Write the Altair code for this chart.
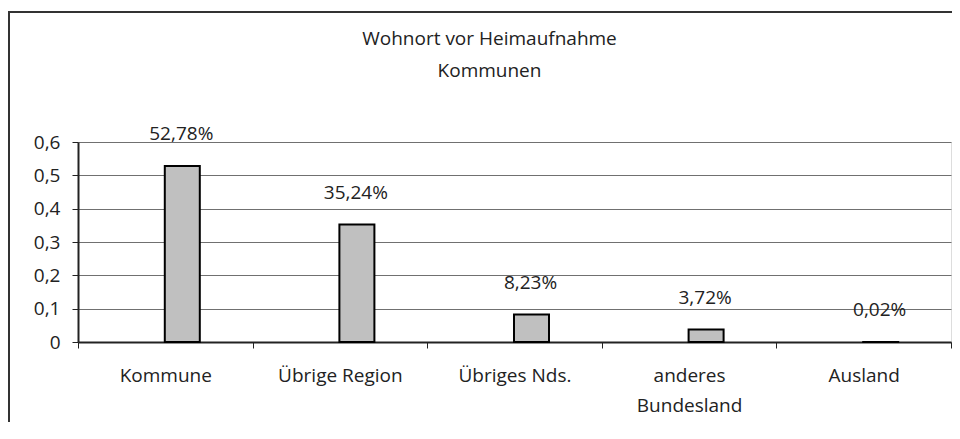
import altair as alt
import pandas as pd

categories = ["Kommune", "Übrige Region", "Übriges Nds.", "anderes Bundesland", "Ausland"]
values = [0.5278, 0.3524, 0.0823, 0.0372, 0.0002]
value_labels = ["52,78%", "35,24%", "8,23%", "3,72%", "0,02%"]
y_ticks = [0, 0.1, 0.2, 0.3, 0.4, 0.5, 0.6]
title_lines = ["Wohnort vor Heimaufnahme", "Kommunen"]

df = pd.DataFrame({"cat": categories, "val": values, "lab": value_labels})

FONT = "Open Sans"
TXT = "#222222"
FS = 19

x_enc = alt.X(
    "cat:N",
    sort=categories,
    title=None,
    scale=alt.Scale(paddingInner=0, paddingOuter=0),
    axis=alt.Axis(
        labelAngle=0,
        tickBand="extent",
        tickSize=6,
        tickColor="#222222",
        domainColor="#222222",
        domainWidth=2,
        labelPadding=18,
        labelFontSize=FS,
        labelColor=TXT,
        labelFont=FONT,
        labelLineHeight=30,
        labelBaseline="top",
        labelExpr="datum.label == 'anderes Bundesland' ? ['anderes', 'Bundesland'] : datum.label",
        grid=False,
    ),
)

y_enc = alt.Y(
    "val:Q",
    title=None,
    scale=alt.Scale(domain=[0, 0.6], nice=False),
    axis=alt.Axis(
        values=y_ticks,
        labelOverlap=False,
        labelExpr="replace(format(datum.value, '.1~f'), '.', ',')",
        tickSize=6,
        tickColor="#222222",
        domainColor="#222222",
        domainWidth=2,
        gridColor="#707070",
        gridWidth=1,
        labelPadding=12,
        labelFontSize=FS,
        labelColor=TXT,
        labelFont=FONT,
    ),
)

bars = alt.Chart(df).mark_bar(
    size=35, xOffset=17, color="#c0c0c0", stroke="#000000", strokeWidth=2
).encode(x=x_enc, y=y_enc)

labels = alt.Chart(df).mark_text(
    dx=16, dy=-32, baseline="middle", fontSize=FS, font=FONT, color=TXT
).encode(
    x=x_enc,
    y=y_enc,
    text="lab:N",
)

frame = alt.Chart(pd.DataFrame({"a": [0]})).mark_rect(
    fill="white", fillOpacity=0, stroke="#333333", strokeWidth=2
).encode(
    x=alt.value(-69), x2=alt.value(1000), y=alt.value(-130), y2=alt.value(400)
)

chart = alt.layer(bars, labels, frame).properties(
    width=873,
    height=200,
    autosize=alt.AutoSizeParams(type="none"),
    padding={"left": 70, "top": 134, "right": 1, "bottom": 80},
    title=alt.TitleParams(
        text=title_lines,
        anchor="middle",
        frame="group",
        dx=-25,
        offset=-70,
        fontSize=FS,
        font=FONT,
        fontWeight="normal",
        color=TXT,
        lineHeight=32,
    ),
).configure_view(stroke="#808080", strokeWidth=1).configure(background="white")

chart.save("out.html", embed_options={"renderer": "svg", "actions": False})
